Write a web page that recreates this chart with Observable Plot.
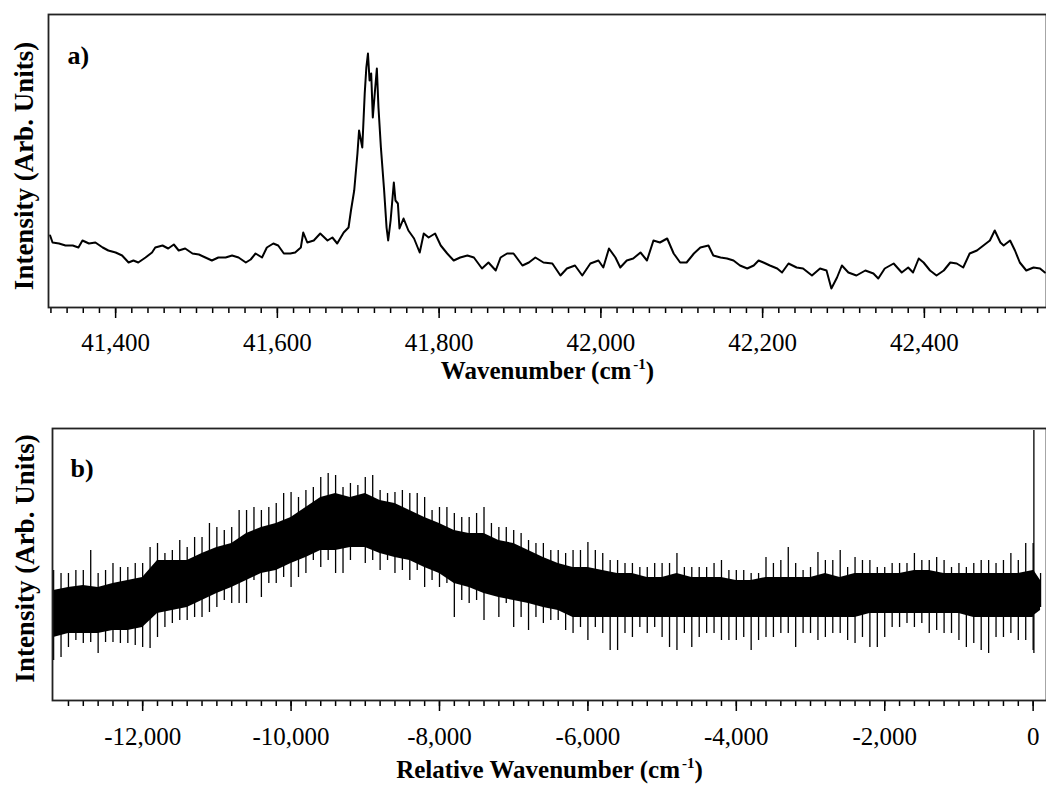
<!DOCTYPE html>
<html>
<head>
<meta charset="utf-8">
<script src="https://cdn.jsdelivr.net/npm/d3@7"></script>
<script src="https://cdn.jsdelivr.net/npm/@observablehq/plot@0.6"></script>
<style>
  html, body { margin: 0; padding: 0; background: #fff; overflow: hidden; }
  #chart svg { display: block; }
</style>
</head>
<body>
<div id="chart"></div>
<script>
// ---------- Panel a: absolute wavenumber spectrum ----------
const aWavenumber = [41319, 41322, 41330, 41338, 41347, 41354, 41359, 41367, 41375, 41384, 41391, 41400, 41408, 41416, 41422, 41428, 41437, 41445, 41449, 41458, 41465, 41472, 41478, 41486, 41495, 41503, 41511, 41519, 41527, 41536, 41544, 41552, 41561, 41567, 41573, 41581, 41587, 41595, 41601, 41608, 41616, 41622, 41629, 41632, 41637, 41645, 41653, 41662, 41668, 41674, 41682, 41688, 41691, 41695, 41699, 41701, 41705, 41708, 41710, 41712, 41714, 41716, 41718, 41720, 41723, 41725, 41728, 41732, 41735, 41737, 41740, 41744, 41746, 41749, 41751, 41756, 41762, 41769, 41776, 41781, 41787, 41795, 41802, 41810, 41818, 41826, 41835, 41843, 41853, 41861, 41870, 41876, 41884, 41892, 41903, 41911, 41919, 41929, 41940, 41950, 41958, 41968, 41977, 41987, 41997, 42003, 42010, 42018, 42024, 42032, 42040, 42049, 42057, 42065, 42073, 42082, 42090, 42098, 42106, 42115, 42123, 42133, 42139, 42148, 42156, 42164, 42172, 42181, 42189, 42195, 42201, 42209, 42218, 42224, 42232, 42242, 42250, 42261, 42271, 42279, 42285, 42292, 42298, 42306, 42316, 42327, 42337, 42343, 42351, 42362, 42372, 42380, 42386, 42393, 42399, 42407, 42415, 42424, 42432, 42440, 42448, 42456, 42465, 42473, 42481, 42487, 42494, 42498, 42506, 42512, 42518, 42526, 42535, 42543, 42549];
const aIntensity = [72, 65, 64, 62, 62, 60, 67, 64, 65, 60, 57, 55, 52, 45, 47, 45, 50, 55, 60, 62, 59, 63, 57, 59, 54, 53, 50, 47, 50, 50, 52, 50, 45, 48, 54, 50, 60, 64, 62, 54, 54, 55, 60, 75, 65, 67, 74, 67, 70, 64, 75, 80, 97, 117, 154, 177, 160, 214, 240, 254, 227, 234, 190, 210, 239, 200, 160, 117, 80, 67, 87, 125, 107, 104, 79, 89, 77, 69, 55, 74, 70, 74, 62, 54, 47, 50, 52, 50, 39, 45, 37, 50, 54, 54, 42, 45, 50, 45, 44, 32, 39, 42, 32, 44, 47, 40, 59, 50, 40, 47, 49, 55, 47, 67, 65, 69, 54, 45, 45, 54, 60, 62, 52, 50, 49, 47, 42, 39, 42, 47, 45, 42, 39, 35, 44, 40, 39, 32, 39, 37, 19, 30, 42, 35, 32, 37, 34, 29, 39, 44, 35, 40, 35, 49, 45, 37, 32, 37, 45, 44, 40, 54, 57, 62, 67, 77, 65, 62, 67, 57, 45, 37, 40, 39, 35];
const aTicks = [41400, 41600, 41800, 42000, 42200, 42400];
const aDomain = [41317, 42551];
const aYDomain = [0, 293];

// ---------- Panel b: relative wavenumber spectrum ----------
// dense core of the noise band (every 200 cm-1)
const bShift = [-13200, -13000, -12800, -12600, -12400, -12200, -12000, -11800, -11600, -11400, -11200, -11000, -10800, -10600, -10400, -10200, -10000, -9800, -9600, -9400, -9200, -9000, -8800, -8600, -8400, -8200, -8000, -7800, -7600, -7400, -7200, -7000, -6800, -6600, -6400, -6200, -6000, -5800, -5600, -5400, -5200, -5000, -4800, -4600, -4400, -4200, -4000, -3800, -3600, -3400, -3200, -3000, -2800, -2600, -2400, -2200, -2000, -1800, -1600, -1400, -1200, -1000, -800, -600, -400, -200, 0, 10, 100];
const bCoreHi = [110, 113, 115, 113, 117, 120, 123, 140, 140, 140, 147, 153, 157, 167, 173, 177, 183, 193, 203, 207, 203, 207, 200, 197, 190, 183, 177, 170, 167, 167, 160, 157, 150, 143, 137, 133, 133, 130, 127, 127, 123, 123, 127, 123, 123, 123, 120, 120, 123, 123, 123, 123, 127, 123, 127, 127, 127, 127, 130, 130, 127, 127, 127, 127, 127, 127, 130, 130, 120];
const bCoreLo = [63, 67, 67, 67, 70, 70, 73, 87, 90, 93, 100, 107, 113, 120, 127, 130, 137, 143, 150, 150, 153, 153, 147, 143, 140, 133, 127, 117, 113, 107, 103, 100, 97, 93, 90, 83, 83, 83, 83, 83, 83, 83, 83, 83, 83, 83, 83, 83, 83, 83, 83, 83, 83, 83, 83, 87, 87, 87, 87, 87, 87, 87, 83, 83, 83, 83, 83, 85, 90];
// extreme spikes of the noise (every 100 cm-1), including the sharp line near 0
const spikeShift = [
  -13200, -13100, -13000, -12900, -12800, -12700, -12600, -12500, -12400, -12300,
  -12200, -12100, -12000, -11900, -11800, -11700, -11600, -11500, -11400, -11300,
  -11200, -11100, -11000, -10900, -10800, -10700, -10600, -10500, -10400, -10300,
  -10200, -10100, -10000, -9900, -9800, -9700, -9600, -9500, -9400, -9300,
  -9200, -9100, -9000, -8900, -8800, -8700, -8600, -8500, -8400, -8300,
  -8200, -8100, -8000, -7900, -7800, -7700, -7600, -7500, -7400, -7300,
  -7200, -7100, -7000, -6900, -6800, -6700, -6600, -6500, -6400, -6300,
  -6200, -6100, -6000, -5900, -5800, -5700, -5600, -5500, -5400, -5300,
  -5200, -5100, -5000, -4900, -4800, -4700, -4600, -4500, -4400, -4300,
  -4200, -4100, -4000, -3900, -3800, -3700, -3600, -3500, -3400, -3300,
  -3200, -3100, -3000, -2900, -2800, -2700, -2600, -2500, -2400, -2300,
  -2200, -2100, -2000, -1900, -1800, -1700, -1600, -1500, -1400, -1300,
  -1200, -1100, -1000, -900, -800, -700, -600, -500, -400, -300,
  -200, -100, 0, 10, 100];
const spikeHi = [
  130, 127, 127, 130, 130, 150, 127, 130, 137, 133,
  133, 137, 137, 153, 157, 147, 150, 160, 153, 163,
  163, 177, 173, 170, 173, 190, 190, 193, 190, 193,
  197, 207, 208, 203, 210, 213, 223, 227, 225, 213,
  217, 215, 223, 225, 210, 207, 208, 210, 207, 207,
  203, 190, 193, 193, 187, 183, 183, 187, 193, 177,
  173, 173, 170, 167, 160, 157, 157, 150, 150, 147,
  150, 150, 158, 150, 147, 140, 140, 137, 137, 133,
  133, 137, 137, 137, 147, 133, 133, 133, 133, 137,
  140, 130, 130, 130, 127, 127, 143, 137, 140, 153,
  137, 130, 133, 148, 140, 140, 150, 133, 143, 140,
  140, 133, 133, 137, 137, 137, 147, 140, 140, 143,
  140, 133, 137, 133, 137, 140, 140, 137, 140, 147,
  140, 157, 157, 270, 127];
const spikeLo = [
  40, 43, 53, 60, 57, 58, 47, 58, 58, 57,
  57, 55, 53, 52, 63, 73, 77, 80, 80, 83,
  83, 88, 93, 100, 97, 97, 97, 120, 103, 117,
  117, 123, 113, 123, 127, 140, 133, 140, 127, 127,
  140, 157, 137, 140, 130, 140, 127, 130, 120, 130,
  113, 120, 113, 117, 83, 100, 97, 100, 80, 107,
  83, 97, 73, 83, 70, 83, 77, 80, 80, 70,
  67, 73, 60, 73, 67, 50, 50, 67, 63, 73,
  67, 73, 63, 53, 50, 67, 53, 63, 67, 67,
  60, 60, 60, 63, 50, 60, 63, 63, 67, 67,
  53, 67, 67, 60, 63, 67, 67, 60, 57, 63,
  53, 53, 63, 73, 73, 77, 73, 77, 67, 70,
  67, 67, 60, 53, 57, 50, 47, 63, 63, 67,
  60, 60, 50, 47, 93];
const bTicks = [-12000, -10000, -8000, -6000, -4000, -2000, 0];
const bDomain = [-13215, 180];
const bYDomain = [0, 272];

// ---------- Build tables ----------
const aRows = aWavenumber.map((x, i) => ({x, y: aIntensity[i]}));
const bCore = bShift.map((x, i) => ({x, hi: bCoreHi[i], lo: bCoreLo[i]}));
const bSpikes = spikeShift.map((x, i) => ({x, hi: spikeHi[i], lo: spikeLo[i]}));

const fmt = d => d.toLocaleString("en-US");
const FONT = "'Liberation Serif', 'Times New Roman', Times, serif";
const style = {fontFamily: FONT, color: "#000", background: "#fff", fontSize: "25px", overflow: "visible"};

function superscriptLabels(svg) {
  d3.select(svg).selectAll("text").each(function () {
    const t = this.textContent;
    if (t.endsWith("(cm-1)")) {
      const s = d3.select(this);
      s.text("");
      s.append("tspan").text(t.slice(0, -3));
      s.append("tspan").attr("dx", 2).attr("dy", -10).attr("font-size", 15).text("-1");
      s.append("tspan").attr("dy", 10).text(")");
    }
  });
  return svg;
}

const plotA = Plot.plot({
  width: 1046, height: 395,
  marginLeft: 48, marginRight: 0, marginTop: 14, marginBottom: 88,
  x: {domain: aDomain},
  y: {domain: aYDomain, axis: null},
  style,
  marks: [
    Plot.axisX({ticks: d3.range(41320, 42560, 20), tickSize: 6, tickFormat: () => "", label: null, strokeWidth: 1.5}),
    Plot.axisX({ticks: aTicks, tickSize: 11, tickPadding: 15, tickFormat: fmt, fontSize: 25, label: null, strokeWidth: 1.5}),
    Plot.line(aRows, {x: "x", y: "y", stroke: "#000", strokeWidth: 2}),
    Plot.frame({stroke: "#222", strokeWidth: 1.8}),
    Plot.text(["a)"], {frameAnchor: "top-left", dx: 19, dy: 31, textAnchor: "start", fontWeight: "bold", fontSize: 26}),
    Plot.text(["Intensity (Arb. Units)"], {frameAnchor: "left", dx: -24, dy: 5, rotate: -90, textAnchor: "middle", fontWeight: "bold", fontSize: 27}),
    Plot.text(["Wavenumber (cm-1)"], {frameAnchor: "bottom", dy: 71, fontWeight: "bold", fontSize: 25})
  ]
});

const plotB = Plot.plot({
  width: 1046, height: 396,
  marginLeft: 52, marginRight: 0, marginTop: 33, marginBottom: 91,
  x: {domain: bDomain},
  y: {domain: bYDomain, axis: null},
  style,
  marks: [
    Plot.axisX({ticks: d3.range(-13000, 200, 200), tickSize: 6, tickFormat: () => "", label: null, strokeWidth: 1.5}),
    Plot.axisX({ticks: bTicks, tickSize: 11, tickPadding: 16, tickFormat: fmt, fontSize: 25, label: null, strokeWidth: 1.5}),
    Plot.areaY(bCore, {x: "x", y1: "lo", y2: "hi", fill: "#000"}),
    Plot.ruleX(bSpikes, {x: "x", y1: "lo", y2: "hi", stroke: "#000", strokeWidth: 1.3}),
    Plot.frame({stroke: "#222", strokeWidth: 1.8}),
    Plot.text(["b)"], {frameAnchor: "top-left", dx: 18, dy: 30, textAnchor: "start", fontWeight: "bold", fontSize: 26}),
    Plot.text(["Intensity (Arb. Units)"], {frameAnchor: "left", dx: -27, dy: -6, rotate: -90, textAnchor: "middle", fontWeight: "bold", fontSize: 27}),
    Plot.text(["Relative Wavenumber (cm-1)"], {frameAnchor: "bottom", dy: 77, fontWeight: "bold", fontSize: 25})
  ]
});

const chart = document.getElementById("chart");
chart.appendChild(superscriptLabels(plotA));
chart.appendChild(superscriptLabels(plotB));
</script>
</body>
</html>
